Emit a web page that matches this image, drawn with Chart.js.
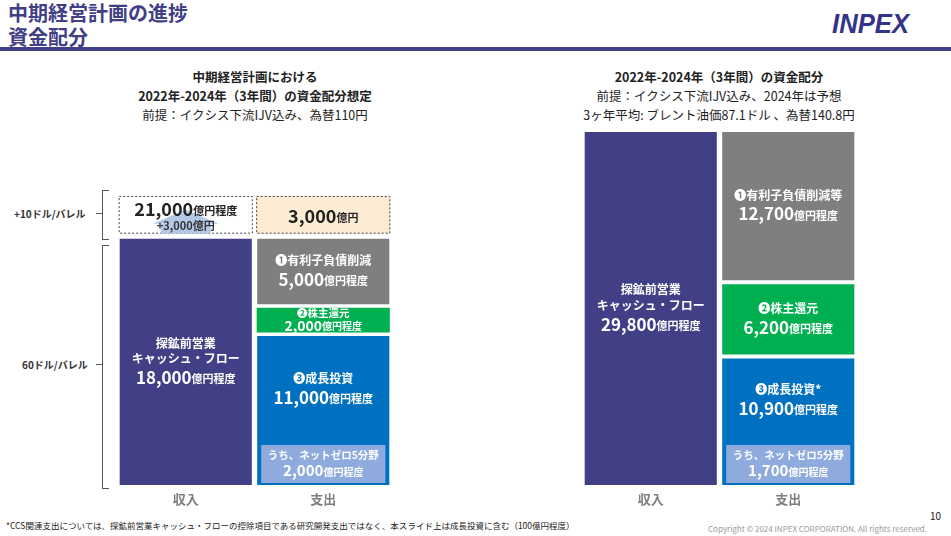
<!DOCTYPE html>
<html><head><meta charset="utf-8">
<script src="https://cdn.jsdelivr.net/npm/chart.js@4.4.1/dist/chart.umd.min.js"></script>
<style>
body{margin:0;width:951px;height:536px;position:relative;background:#fff;font-family:"Noto Sans CJK JP","Noto Sans",sans-serif;overflow:hidden}
.abs{position:absolute}
.t{font-weight:bold;color:#222;text-align:center}
</style></head><body>
<div class="abs" style="left:8px;top:1px;font-size:20px;font-weight:bold;color:#413F85;line-height:24px">中期経営計画の進捗<br>資金配分</div>
<div class="abs" style="left:830px;top:9px;font:italic 900 27px 'Liberation Sans',sans-serif;color:#34338A;letter-spacing:0px;transform:scaleX(0.95)">INPEX</div>
<div class="abs" style="left:0;top:47px;width:951px;height:4px;background:#413F85"></div>

<div class="abs t" style="left:100px;top:67px;width:310px;font-size:12.5px;line-height:19px">中期経営計画における<br>2022年-2024年（3年間）の資金配分想定<br><span style="font-weight:normal">前提：イクシス下流IJV込み、為替110円</span></div>
<div class="abs t" style="left:560px;top:67px;width:318px;font-size:12.5px;line-height:19px">2022年-2024年（3年間）の資金配分<br><span style="font-weight:normal">前提：イクシス下流IJV込み、2024年は予想<br>3ヶ年平均: ブレント油価87.1ドル 、為替140.8円</span></div>

<div class="abs" style="left:14px;top:206px;font-size:10px;font-weight:bold;color:#333">+10ドル/バレル</div>
<div class="abs" style="left:102px;top:190px;width:6px;height:48px;border:1px solid #555;border-right:none"></div>
<div class="abs" style="left:96px;top:213px;width:6px;border-top:1px solid #555"></div>
<div class="abs" style="left:22px;top:357px;font-size:10px;font-weight:bold;color:#333">60ドル/バレル</div>
<div class="abs" style="left:102px;top:245px;width:6px;height:242px;border:1px solid #555;border-right:none"></div>
<div class="abs" style="left:96px;top:364px;width:6px;border-top:1px solid #555"></div>

<canvas id="cL" class="abs" style="left:117px;top:188px"></canvas>
<canvas id="cR" class="abs" style="left:582px;top:130px"></canvas>

<div class="abs" style="left:6px;top:519px;font-size:8.5px;color:#222">*CCS関連支出については、探鉱前営業キャッシュ・フローの控除項目である研究開発支出ではなく、本スライド上は成長投資に含む（100億円程度）</div>
<div class="abs" style="left:930px;top:508px;font-size:10px;color:#222">10</div>
<div class="abs" style="left:708px;top:523px;font-size:8px;color:#999">Copyright © 2024 INPEX CORPORATION. All rights reserved.</div>

<script>
const categories = ["収入", "支出"];
// left: plan (億円)
const leftIncome = [18000, 0];
const leftIncomeUpside = [3000, 0];
const leftGrowth = [0, 11000];
const leftReturn = [0, 2000];
const leftDebt = [0, 5000];
const leftUpside = [0, 3000];
// right: actual 2022-2024 (億円)
const rightIncome = [29800, 0];
const rightGrowth = [0, 10900];
const rightReturn = [0, 6200];
const rightDebt = [0, 12700];

const NAVY = "#413F85", GRAY = "#7F7F7F", GREEN = "#00B050", BLUE = "#0070C0";
const FONT = '"Noto Sans CJK JP", sans-serif';

function ds(data, color, bw) {
  return { data, backgroundColor: color, borderColor: "#fff",
           borderWidth: bw || 2, borderSkipped: false, stack: "s" };
}

// lines: array of segments [text, size]
function drawLines(ctx, cx, cy, lines, color, k) {
  k = k || 1.3;
  const lh = lines.map(l => Math.max(...l.map(s => s[1])) * k);
  let y = cy - lh.reduce((a, b) => a + b, 0) / 2;
  ctx.fillStyle = color; ctx.textBaseline = "middle"; ctx.textAlign = "left";
  lines.forEach((l, i) => {
    let w = 0;
    l.forEach(s => { ctx.font = "bold " + s[1] + "px " + FONT; w += ctx.measureText(s[0]).width; });
    let x = cx - w / 2;
    const mid = y + lh[i] / 2;
    const big = Math.max(...l.map(s => s[1]));
    l.forEach(s => {
      ctx.font = "bold " + s[1] + "px " + FONT;
      ctx.fillText(s[0], x, mid + (big - s[1]) * 0.3);
      x += ctx.measureText(s[0]).width;
    });
    y += lh[i];
  });
}

function labelPlugin(spec) {
  return {
    id: "lbl",
    afterDatasetsDraw(chart) {
      const ctx = chart.ctx;
      ctx.save();
      const area = chart.chartArea;
      chart.getDatasetMeta(0).data.forEach((b, i) => {
        ctx.font = "bold 13px " + FONT; ctx.fillStyle = "#7F7F7F"; ctx.textAlign = "center";
        ctx.textBaseline = "alphabetic";
        ctx.fillText(categories[i], b.x, area.bottom + 17);
      });
      spec(chart, ctx);
      ctx.restore();
    }
  };
}

function seg(chart, d, i) {
  const b = chart.getDatasetMeta(d).data[i];
  const w = b.width;
  return { x: b.x - w / 2, w, top: b.y, bottom: b.base, cx: b.x, cy: (b.y + b.base) / 2 };
}

function netZero(ctx, s, big) {
  const x = s.x + 6, w = s.w - 12, h = 38, y = s.bottom - 4 - h;
  ctx.fillStyle = "#8FAADC"; ctx.fillRect(x, y, w, h);
  drawLines(ctx, s.cx, y + h / 2, [[["うち、ネットゼロ5分野", 10.5]], [[big, 15], ["億円程度", 10]]], "#fff", 1.2);
  return y;
}

function dashed(ctx, s, fill) {
  ctx.fillStyle = fill; ctx.fillRect(s.x + 1, s.top + 1, s.w - 2, s.bottom - s.top - 4);
  ctx.setLineDash([2, 2]); ctx.strokeStyle = "#444"; ctx.lineWidth = 1;
  ctx.strokeRect(s.x + 1.5, s.top + 1.5, s.w - 3, s.bottom - s.top - 5);
  ctx.setLineDash([]);
}

function makeChart(id, w, h, max, datasets, spec) {
  const c = document.getElementById(id);
  c.width = w; c.height = h;
  c.style.width = w + "px"; c.style.height = h + "px";
  return new Chart(c, {
    type: "bar",
    data: { labels: categories, datasets },
    options: {
      responsive: false, animation: false, devicePixelRatio: 1,
      layout: { padding: { bottom: 25 } },
      datasets: { bar: { categoryPercentage: 1, barPercentage: 0.99 } },
      plugins: { legend: { display: false }, tooltip: { enabled: false } },
      scales: {
        x: { display: false, stacked: true },
        y: { display: false, stacked: true, min: 0, max }
      }
    },
    plugins: [labelPlugin(spec)]
  });
}

makeChart("cL", 275, 324, 21500, [
  ds(leftIncome, NAVY), ds(leftIncomeUpside, "rgba(0,0,0,0)"),
  ds(leftGrowth, BLUE), ds(leftReturn, GREEN, 1.5), ds(leftDebt, GRAY), ds(leftUpside, "rgba(0,0,0,0)")
], (chart, ctx) => {
  const inc = seg(chart, 0, 0), up = seg(chart, 1, 0);
  const g = seg(chart, 2, 1), r = seg(chart, 3, 1), d = seg(chart, 4, 1), u = seg(chart, 5, 1);
  drawLines(ctx, inc.cx, inc.cy, [[["探鉱前営業", 12]], [["キャッシュ・フロー", 12]], [["18,000", 17], ["億円程度", 11]]], "#fff");
  dashed(ctx, up, "#fff");
  const ab = up.bottom - 3;
  ctx.fillStyle = "#B4C7E7";
  ctx.fillRect(inc.cx - 25, ab - 10, 50, 10);
  ctx.beginPath(); ctx.moveTo(inc.cx - 33, ab - 10); ctx.lineTo(inc.cx, ab - 24); ctx.lineTo(inc.cx + 33, ab - 10); ctx.fill();
  drawLines(ctx, up.cx, up.top + 14, [[["21,000", 18], ["億円程度", 11]]], "#222", 1.1);
  drawLines(ctx, up.cx, up.bottom - 11, [[["+3,000億円", 11]]], "#333", 1.1);
  dashed(ctx, u, "#FDEBD3");
  drawLines(ctx, u.cx, (u.top + u.bottom) / 2, [[["3,000", 18], ["億円", 11]]], "#222");
  drawLines(ctx, d.cx, d.cy, [[["❶有利子負債削減", 12]], [["5,000", 17], ["億円程度", 11]]], "#fff");
  drawLines(ctx, r.cx, r.cy, [[["❷株主還元", 10.5]], [["2,000", 14], ["億円程度", 10]]], "#fff", 1.0);
  const nz = netZero(ctx, g, "2,000");
  drawLines(ctx, g.cx, (g.top + nz) / 2, [[["❸成長投資", 12]], [["11,000", 17], ["億円程度", 11]]], "#fff");
});

makeChart("cR", 275, 382, 29800, [
  ds(rightIncome, NAVY), ds(rightGrowth, BLUE), ds(rightReturn, GREEN), ds(rightDebt, GRAY)
], (chart, ctx) => {
  const inc = seg(chart, 0, 0), g = seg(chart, 1, 1), r = seg(chart, 2, 1), d = seg(chart, 3, 1);
  drawLines(ctx, inc.cx, inc.cy, [[["探鉱前営業", 12]], [["キャッシュ・フロー", 12]], [["29,800", 17], ["億円程度", 11]]], "#fff");
  drawLines(ctx, d.cx, d.cy, [[["❶有利子負債削減等", 12]], [["12,700", 17], ["億円程度", 11]]], "#fff");
  drawLines(ctx, r.cx, r.cy, [[["❷株主還元", 12]], [["6,200", 17], ["億円程度", 11]]], "#fff");
  const nz = netZero(ctx, g, "1,700");
  drawLines(ctx, g.cx, (g.top + nz) / 2, [[["❸成長投資*", 12]], [["10,900", 17], ["億円程度", 11]]], "#fff");
});
</script>
</body></html>
